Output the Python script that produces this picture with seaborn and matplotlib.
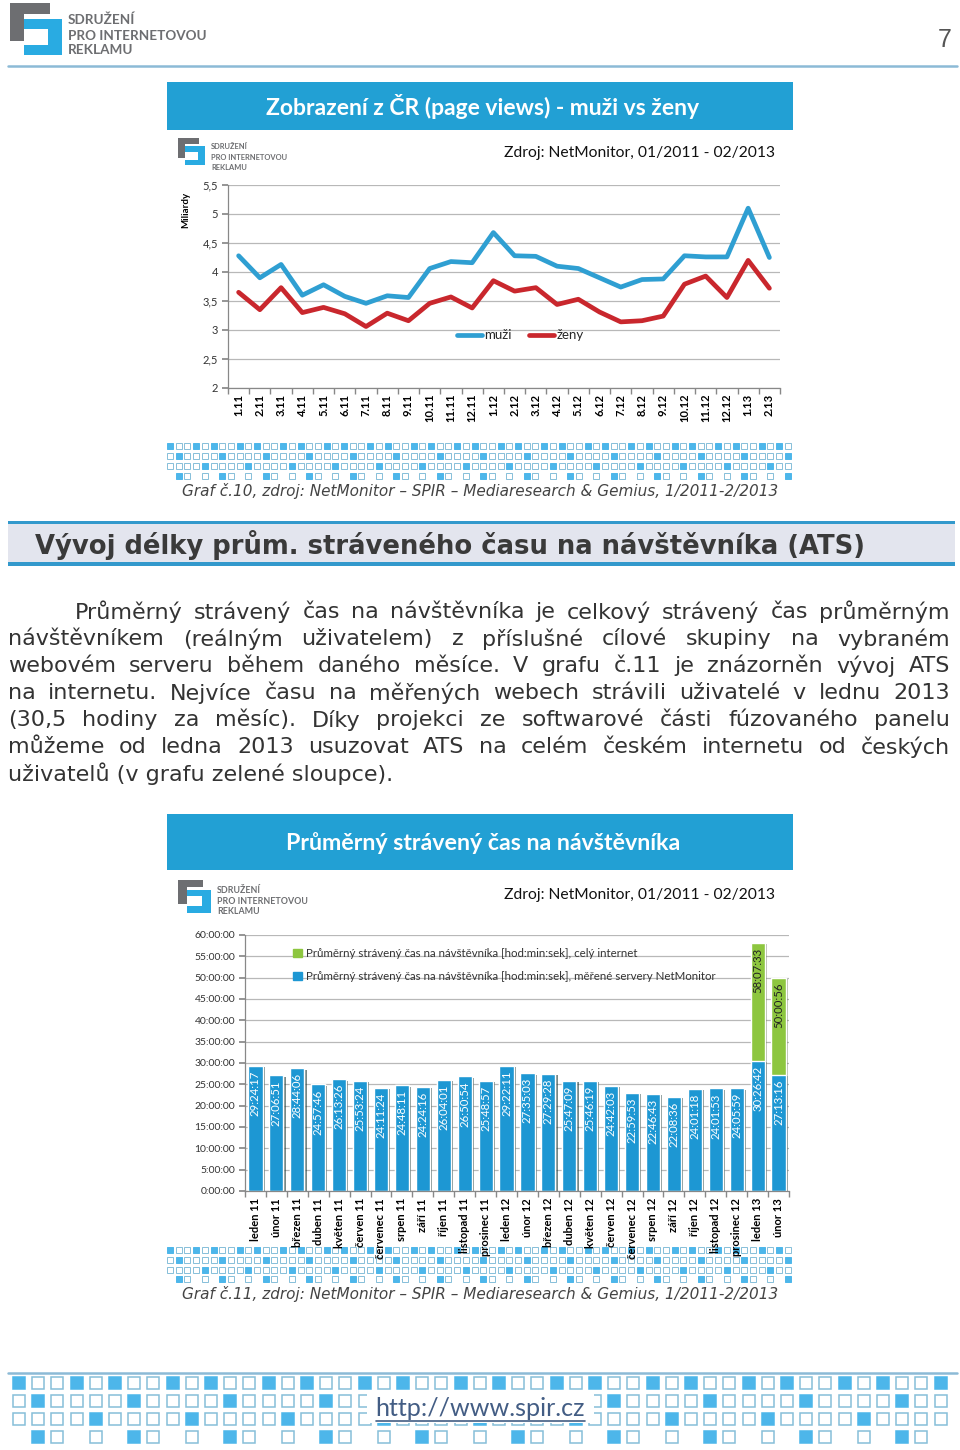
import numpy as np
import pandas as pd
import matplotlib.pyplot as plt
import matplotlib.patches as mpatches
import matplotlib.patheffects as pe
from matplotlib.lines import Line2D
from matplotlib.ticker import FuncFormatter
import seaborn as sns

# --- Data: graf c.10, page views (miliardy) ---
MESICE_KRATCE = ['1.11', '2.11', '3.11', '4.11', '5.11', '6.11', '7.11', '8.11', '9.11',
                 '10.11', '11.11', '12.11', '1.12', '2.12', '3.12', '4.12', '5.12', '6.12',
                 '7.12', '8.12', '9.12', '10.12', '11.12', '12.12', '1.13', '2.13']
MUZI = [4.28, 3.90, 4.13, 3.60, 3.78, 3.58, 3.46, 3.59, 3.56, 4.06, 4.18, 4.16, 4.68,
        4.28, 4.27, 4.10, 4.06, 3.90, 3.74, 3.87, 3.88, 4.28, 4.26, 4.26, 5.10, 4.25]
ZENY = [3.65, 3.35, 3.73, 3.30, 3.39, 3.28, 3.06, 3.29, 3.16, 3.46, 3.57, 3.38, 3.85,
        3.67, 3.73, 3.44, 3.53, 3.31, 3.14, 3.16, 3.24, 3.79, 3.93, 3.56, 4.20, 3.72]

# --- Data: graf c.11, ATS [hod:min:sek] ---
MESICE = ['leden 11', 'únor 11', 'březen 11', 'duben 11', 'květen 11', 'červen 11',
          'červenec 11', 'srpen 11', 'září 11', 'říjen 11', 'listopad 11', 'prosinec 11',
          'leden 12', 'únor 12', 'březen 12', 'duben 12', 'květen 12', 'červen 12',
          'červenec 12', 'srpen 12', 'září 12', 'říjen 12', 'listopad 12', 'prosinec 12',
          'leden 13', 'únor 13']
ATS_NETMONITOR = ['29:24:17', '27:06:51', '28:44:06', '24:57:46', '26:13:26', '25:53:24',
                  '24:11:24', '24:48:11', '24:24:16', '26:04:01', '26:50:54', '25:48:57',
                  '29:22:11', '27:35:03', '27:29:28', '25:47:09', '25:46:19', '24:42:03',
                  '22:59:53', '22:46:43', '22:08:36', '24:01:18', '24:01:53', '24:05:59',
                  '30:26:42', '27:13:16']
ATS_CELY_INTERNET = [None] * 24 + ['58:07:33', '50:00:56']

TEXT_LINES = [
    'Průměrný strávený čas na návštěvníka je celkový strávený čas průměrným',
    'návštěvníkem (reálným uživatelem) z příslušné cílové skupiny na vybraném',
    'webovém serveru během daného měsíce. V grafu č.11 je znázorněn vývoj ATS',
    'na internetu. Nejvíce času na měřených webech strávili uživatelé v lednu 2013',
    '(30,5 hodiny za měsíc). Díky projekci ze softwarové části fúzovaného panelu',
    'můžeme od ledna 2013 usuzovat ATS na celém českém internetu od českých',
    'uživatelů (v grafu zelené sloupce).',
]

# --- Styling ---
TITLE_BLUE = '#22a0d4'
LINE_BLUE = '#2f9fd2'
LINE_RED = '#c9272d'
BAR_BLUE = '#1d97d3'
BAR_GREEN = '#8dc63f'
LOGO_GRAY = '#6d6e71'
LOGO_BLUE = '#29abe2'
SQ_FILL = '#4db6ea'
SQ_EDGE = '#86bfd9'
GRID = '#b8b8b8'

sns.set_theme(style="white")
plt.rcParams['font.family'] = ['Lato', 'DejaVu Sans']

W, H = 960, 1450
fig = plt.figure(figsize=(W / 100, H / 100), dpi=100)
page = fig.add_axes([0, 0, 1, 1], zorder=0)
page.set_xlim(0, W)
page.set_ylim(H, 0)
page.axis('off')
renderer = fig.canvas.get_renderer()


def px_axes(left, top, right, bottom):
    ax = fig.add_axes([left / W, 1 - bottom / H, (right - left) / W, (bottom - top) / H], zorder=2)
    ax.set_facecolor('none')
    return ax


def rect(x, y, w, h, **kw):
    page.add_patch(mpatches.Rectangle((x, y), w, h, **kw))


def fit_width(t, width):
    w = t.get_window_extent(renderer).width
    t.set_fontsize(t.get_fontsize() * width / w)
    return t.get_fontsize()


def draw_logo(x, y, s):
    parts = [(0, 0, 40, 11, LOGO_GRAY), (0, 0, 14, 38, LOGO_GRAY),
             (14, 16, 38, 10, LOGO_BLUE), (38, 16, 14, 36, LOGO_BLUE), (14, 42, 38, 10, LOGO_BLUE)]
    for rx, ry, rw, rh, c in parts:
        rect(x + rx * s, y + ry * s, rw * s, rh * s, color=c, lw=0)


def logo_text(x, ys, width):
    t = page.text(x, ys[1], 'PRO INTERNETOVOU', fontsize=10, fontweight='bold',
                  color=LOGO_GRAY, va='center', ha='left')
    fs = fit_width(t, width)
    for yy, s in [(ys[0], 'SDRUŽENÍ'), (ys[2], 'REKLAMU')]:
        page.text(x, yy, s, fontsize=fs, fontweight='bold', color=LOGO_GRAY, va='center', ha='left')


ROW_PATTERNS = ['X..X.', '.X...', '....X', ' X. .']


def pattern_band(x0, x1, y_centers, step, size, lw):
    n = int((x1 - x0) // step) + 1
    for r, yc in enumerate(y_centers):
        pat = ROW_PATTERNS[r]
        for k in range(n):
            ch = pat[k % 5]
            if ch == ' ':
                continue
            xc = x0 + k * step
            if ch == 'X':
                rect(xc - size / 2, yc - size / 2, size, size, facecolor=SQ_FILL, edgecolor=SQ_FILL, lw=lw)
            else:
                rect(xc - size / 2, yc - size / 2, size, size, facecolor='white', edgecolor=SQ_EDGE, lw=lw)


def to_hours(s):
    h, m, sec = (int(v) for v in s.split(':'))
    return h + m / 60 + sec / 3600


# ---------------- page header ----------------
draw_logo(10, 3, 1.0)
logo_text(68, [20, 36, 50], 138)
page.text(945, 40, '7', fontsize=18, color='#555555', ha='center', va='center', family='Liberation Sans')
page.plot([8, 957], [66, 66], color='#8cbad6', lw=1.8)

# ---------------- chart 1 ----------------
rect(167, 82, 626, 48, color=TITLE_BLUE, lw=0)
t = page.text(483, 106, 'Zobrazení z ČR (page views) - muži vs ženy', color='white',
              fontsize=15, fontweight='bold', ha='center', va='center')
fit_width(t, 435)
draw_logo(178, 138, 0.52)
logo_text(211, [146, 157, 167], 77)
t = page.text(775, 153, 'Zdroj: NetMonitor, 01/2011 - 02/2013', fontsize=11, ha='right', va='center', color='#111111')
zdroj_fs = fit_width(t, 270)

ax1 = px_axes(228, 185, 780, 388)
df1 = pd.DataFrame({'mesic': MESICE_KRATCE, 'muži': MUZI, 'ženy': ZENY})
df1['poradi'] = np.arange(len(df1))
long1 = df1.melt(id_vars=['mesic', 'poradi'], value_vars=['muži', 'ženy'],
                 var_name='skupina', value_name='miliardy')
sns.lineplot(data=long1, x='poradi', y='miliardy', hue='skupina',
             palette={'muži': LINE_BLUE, 'ženy': LINE_RED}, linewidth=3.4, ax=ax1, legend=False)
ax1.set_xlim(-0.5, len(MESICE_KRATCE) - 0.5)
ax1.set_ylim(2, 5.5)
ax1.set_yticks(np.arange(2, 5.51, 0.5))
ax1.yaxis.set_major_formatter(FuncFormatter(lambda v, _: f'{v:g}'.replace('.', ',')))
ax1.set_xticks(df1['poradi'])
ax1.set_xticklabels(MESICE_KRATCE, rotation=90, fontweight='bold', fontsize=8)
ax1.set_xticks(np.arange(-0.5, len(MESICE_KRATCE), 1), minor=True)
ax1.tick_params(axis='x', which='major', length=0, pad=4, colors='black')
ax1.tick_params(axis='x', which='minor', length=4, color='#888888', direction='out', bottom=True)
ax1.tick_params(axis='y', length=4, color='#888888', labelsize=8, labelcolor='#333333', left=True, pad=3)
ax1.yaxis.grid(True, color=GRID, lw=0.9)
ax1.set_axisbelow(True)
for s in ['top', 'right']:
    ax1.spines[s].set_visible(False)
for s in ['left', 'bottom']:
    ax1.spines[s].set_color('#888888')
    ax1.spines[s].set_linewidth(0.9)
ax1.set_xlabel('')
ax1.set_ylabel('Miliardy', fontsize=7, fontweight='bold', color='black')
ax1.yaxis.set_label_coords(-0.069, 0.877)
handles = [Line2D([], [], color=LINE_BLUE, lw=3.4), Line2D([], [], color=LINE_RED, lw=3.4)]
ax1.legend(handles, ['muži', 'ženy'], loc='center', bbox_to_anchor=(0.53, 0.26), ncol=2,
           frameon=False, fontsize=9.5, handlelength=1.9, handletextpad=0.2, columnspacing=1.3)

pattern_band(170, 790, [446, 456, 466, 476], 8.7, 6, 0.7)
t = page.text(480, 491, 'Graf č.10, zdroj: NetMonitor – SPIR – Mediaresearch & Gemius, 1/2011-2/2013',
              family='DejaVu Sans', style='italic', color='#444444', fontsize=9.5, ha='center', va='center')
cap_fs = fit_width(t, 595)

# ---------------- section header + paragraph ----------------
rect(8, 521, 947, 3, color='#3399cc', lw=0)
rect(8, 524, 947, 38, color='#e3e5ee', lw=0)
rect(8, 562, 947, 4, color='#3399cc', lw=0)
t = page.text(35, 545, 'Vývoj délky prům. stráveného času na návštěvníka (ATS)', family='DejaVu Sans',
              fontweight='bold', color='#3a3a3a', fontsize=16, ha='left', va='center')
fit_width(t, 833)

t = page.text(8, 774, TEXT_LINES[-1], family='DejaVu Sans', color='#333333', fontsize=13, ha='left', va='center')
para_fs = fit_width(t, 385)
for i, line in enumerate(TEXT_LINES[:-1]):
    y = 612 + 27 * i
    x0 = 75 if i == 0 else 8
    words = line.split(' ')
    objs = [page.text(0, y, w, family='DejaVu Sans', color='#333333', fontsize=para_fs,
                      ha='left', va='center') for w in words]
    widths = [o.get_window_extent(renderer).width for o in objs]
    gap = (950 - x0 - sum(widths)) / (len(words) - 1)
    x = x0
    for o, w in zip(objs, widths):
        o.set_x(x)
        x += w + gap

# ---------------- chart 2 ----------------
rect(167, 814, 626, 56, color=TITLE_BLUE, lw=0)
t = page.text(483, 843, 'Průměrný strávený čas na návštěvníka', color='white',
              fontsize=15, fontweight='bold', ha='center', va='center')
fit_width(t, 395)
draw_logo(178, 880, 0.63)
logo_text(217, [890, 901, 911], 91)
page.text(775, 895, 'Zdroj: NetMonitor, 01/2011 - 02/2013', fontsize=zdroj_fs, ha='right', va='center', color='#111111')

ax2 = px_axes(245, 935, 789, 1191)
df2 = pd.DataFrame({'mesic': MESICE,
                    'netmonitor': [to_hours(s) for s in ATS_NETMONITOR],
                    'cely': [to_hours(s) if s else np.nan for s in ATS_CELY_INTERNET]})
df2['celkem'] = df2['cely'].fillna(df2['netmonitor'])
sns.barplot(data=df2, x='mesic', y='celkem', color=BAR_GREEN, saturation=1, width=0.68, ax=ax2)
sns.barplot(data=df2, x='mesic', y='netmonitor', color=BAR_BLUE, saturation=1, width=0.68, ax=ax2)
for p in ax2.patches:
    p.set_path_effects([pe.SimplePatchShadow(offset=(1.5, -1.0), alpha=0.35), pe.Normal()])
for i, row in df2.iterrows():
    ax2.annotate(ATS_NETMONITOR[i], (i, row['netmonitor']), xytext=(0, -3.5), textcoords='offset points',
                 rotation=90, ha='center', va='top', color='white', fontsize=8.2)
    if ATS_CELY_INTERNET[i]:
        ax2.annotate(ATS_CELY_INTERNET[i], (i, row['cely']), xytext=(0, -3.5), textcoords='offset points',
                     rotation=90, ha='center', va='top', color='#222222', fontsize=8.2)
ax2.set_xlim(-0.5, len(MESICE) - 0.5)
ax2.set_ylim(0, 60)
ax2.set_yticks(np.arange(0, 61, 5))
ax2.yaxis.set_major_formatter(FuncFormatter(lambda v, _: f'{int(v)}:00:00'))
ax2.set_xticks(np.arange(len(MESICE)))
ax2.set_xticklabels(MESICE, rotation=90, fontweight='bold', fontsize=8)
ax2.set_xticks(np.arange(-0.5, len(MESICE), 1), minor=True)
ax2.tick_params(axis='x', which='major', length=0, pad=5, colors='black')
ax2.tick_params(axis='x', which='minor', length=4, color='#888888', direction='out', bottom=True)
ax2.tick_params(axis='y', length=4, color='#888888', labelsize=7.5, labelcolor='#333333', left=True, pad=3)
ax2.yaxis.grid(True, color=GRID, lw=0.9)
ax2.set_axisbelow(True)
for s in ['top', 'right']:
    ax2.spines[s].set_visible(False)
for s in ['left', 'bottom']:
    ax2.spines[s].set_color('#888888')
    ax2.spines[s].set_linewidth(0.9)
ax2.set_xlabel('')
ax2.set_ylabel('')
leg_handles = [mpatches.Patch(color=BAR_GREEN), mpatches.Patch(color=BAR_BLUE)]
ax2.legend(leg_handles, ['Průměrný strávený čas na návštěvníka [hod:min:sek], celý internet',
                         'Průměrný strávený čas na návštěvníka [hod:min:sek], měřené servery NetMonitor'],
           loc='upper left', bbox_to_anchor=(0.07, 0.99), frameon=False, fontsize=8.3,
           handlelength=0.7, handleheight=0.7, handletextpad=0.4, labelspacing=1.05, labelcolor='#333333')

pattern_band(170, 790, [1250, 1260, 1270, 1279], 8.7, 6, 0.7)
page.text(480, 1294, 'Graf č.11, zdroj: NetMonitor – SPIR – Mediaresearch & Gemius, 1/2011-2/2013',
          family='DejaVu Sans', style='italic', color='#444444', fontsize=cap_fs, ha='center', va='center')

# ---------------- footer ----------------
page.plot([8, 957], [1373, 1373], color='#8cbad6', lw=1.8)
pattern_band(19, 950, [1383, 1401, 1419, 1437], 19.2, 12, 1.1)
rect(367, 1391, 227, 32, color='white', lw=0, zorder=3)
t = page.text(480, 1409, 'http://www.spir.cz', color='#435d84', fontsize=17, ha='center', va='center', zorder=4)
fit_width(t, 209)
page.plot([376, 585], [1421, 1421], color='#435d84', lw=1.2, zorder=4)

fig.savefig('out.png', dpi=100)
